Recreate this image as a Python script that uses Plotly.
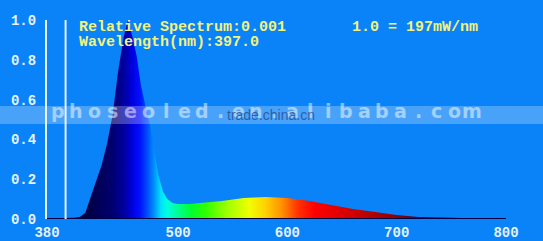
import plotly.graph_objects as go

# ---- data ----
wavelengths = [380, 390, 400, 405, 410, 415, 420, 425, 430, 435, 440, 445, 450, 454,
               458, 462, 466, 470, 474, 478, 482, 486, 490, 495, 500, 510, 520, 540,
               560, 580, 600, 620, 640, 660, 680, 700, 720, 740, 760, 780, 800]
relative = [0.004, 0.004, 0.005, 0.006, 0.01, 0.03, 0.11, 0.19, 0.27, 0.38, 0.52, 0.74,
            0.91, 1.0, 0.92, 0.82, 0.67, 0.57, 0.48, 0.35, 0.22, 0.14, 0.10, 0.08,
            0.075, 0.075, 0.08, 0.09, 0.105, 0.11, 0.105, 0.09, 0.07, 0.05, 0.035,
            0.02, 0.01, 0.006, 0.005, 0.004, 0.004]
x_ticks = [380, 500, 600, 700, 800]
y_ticks = [0.0, 0.2, 0.4, 0.6, 0.8, 1.0]
y_tick_labels = ["0.0", "0.2", "0.4", "0.6", "0.8", "1.0"]
cursor_nm = 397.0
info_line1 = "Relative Spectrum:0.001"
info_line2 = "Wavelength(nm):397.0"
scale_text = "1.0 = 197mW/nm"
watermark_big = "phoseoled.en.alibaba.com"
watermark_small = "trade.china.cn"

# spectral colours (nm, colour)
spectrum_colors = [
    (380, "#000028"), (415, "#000040"), (440, "#000070"), (452, "#0000A8"),
    (458, "#0000E0"), (465, "#0010FF"), (472, "#0050FF"), (478, "#0090FF"),
    (484, "#00E0FF"), (490, "#00FFE0"), (500, "#00FF90"), (512, "#00FF30"),
    (525, "#30FF00"), (545, "#A0FF00"), (565, "#F0FF00"), (580, "#FFD000"),
    (595, "#FF9000"), (610, "#FF3000"), (625, "#FF0000"), (660, "#D00000"),
    (700, "#900000"), (715, "#600020"), (725, "#200040"), (800, "#000030"),
]

BG = "#0A82F8"
AXIS = "#E4F2FF"
TXT = "#F2F27C"
MONO = "Liberation Mono, Courier New, monospace"

L, R, T, B = 47, 37, 20, 22
W, H = 543, 241
PW, PH = W - L - R, H - T - B


def px_x(px):
    return (px - L) / PW


def px_y(py):
    return (H - B - py) / PH


lo, hi = wavelengths[0], wavelengths[-1]
colorscale = [[(nm - lo) / (hi - lo), c] for nm, c in spectrum_colors]

fig = go.Figure()
fig.add_trace(go.Scatter(
    x=wavelengths, y=relative, mode="lines", fill="tozeroy",
    line=dict(width=0, color="rgba(0,0,0,0)"),
    fillgradient=dict(type="horizontal", colorscale=colorscale, start=lo, stop=hi),
    hoverinfo="skip", showlegend=False,
))
# dark baseline
fig.add_trace(go.Scatter(
    x=[lo, hi], y=[0, 0], mode="lines",
    line=dict(width=2, color="#000040"), hoverinfo="skip", showlegend=False,
))
# y tick arrows
fig.add_trace(go.Scatter(
    x=[lo - 3.3] * len(y_ticks), y=y_ticks, mode="markers", cliponaxis=False,
    marker=dict(symbol="arrow-up", size=5, color=AXIS),
    hoverinfo="skip", showlegend=False,
))
# x tick marks (short, just below the baseline)
fig.add_trace(go.Scatter(
    x=x_ticks[1:] + [cursor_nm + 2.5], y=[-0.017] * len(x_ticks), mode="markers",
    cliponaxis=False,
    marker=dict(symbol="line-ns", size=4, line=dict(width=2, color=AXIS)),
    hoverinfo="skip", showlegend=False,
))

# cursor line
fig.add_shape(type="line", xref="x", yref="y", x0=cursor_nm, x1=cursor_nm,
              y0=-0.005, y1=1.0, line=dict(color=AXIS, width=2))

# watermark band
fig.add_shape(type="rect", xref="paper", yref="paper", x0=px_x(0), x1=px_x(W),
              y0=px_y(124), y1=px_y(106), fillcolor="rgba(255,255,255,0.26)",
              line=dict(width=0), layer="above")

for txt, px, py in [(info_line1, 77, 28), (info_line2, 77, 42), (scale_text, 350, 28)]:
    fig.add_annotation(xref="paper", yref="paper", x=px_x(px), y=px_y(py),
                       xanchor="left", yanchor="middle", text=txt, showarrow=False,
                       font=dict(family=MONO, size=15, color=TXT, weight="bold"))

# watermarks
for i, ch in enumerate(watermark_big):
    fig.add_annotation(xref="paper", yref="paper", x=px_x(58 + 18 * i), y=px_y(111),
                       xanchor="center", yanchor="middle", text=ch, showarrow=False,
                       font=dict(family="DejaVu Sans", size=19,
                                 color="rgba(255,255,255,0.5)", weight="bold"))
fig.add_annotation(xref="paper", yref="paper", x=px_x(271), y=px_y(115),
                   xanchor="center", yanchor="middle", text=watermark_small,
                   showarrow=False,
                   font=dict(family="Liberation Sans, Arial", size=14,
                             color="rgba(40,80,150,0.85)"))

fig.update_layout(
    width=W, height=H,
    margin=dict(l=L, r=R, t=T, b=B, autoexpand=False),
    paper_bgcolor=BG, plot_bgcolor=BG,
    xaxis=dict(range=[lo, hi], tickvals=x_ticks, ticktext=[str(v) for v in x_ticks],
               showgrid=False, zeroline=False, showline=False, automargin=False,
               ticks="", ticklabelstandoff=3,
               tickfont=dict(family=MONO, size=14, color=AXIS, weight="bold")),
    yaxis=dict(range=[0, 1.0], tickvals=y_ticks, ticktext=y_tick_labels,
               showgrid=False, zeroline=False, showline=True, linecolor=AXIS,
               linewidth=2, ticks="", ticklabelstandoff=6, automargin=False,
               tickfont=dict(family=MONO, size=14, color=AXIS, weight="bold")),
)

fig.write_html("out.html")
